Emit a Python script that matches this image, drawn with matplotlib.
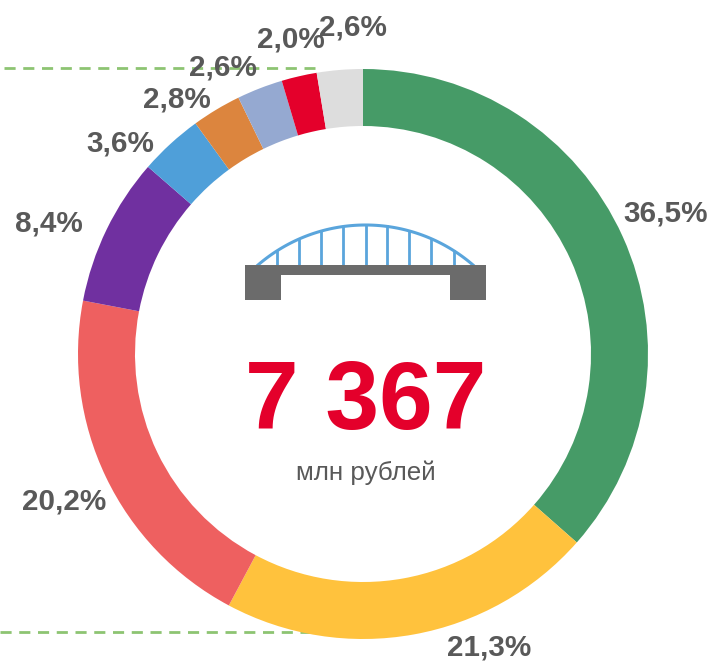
import numpy as np
import matplotlib
matplotlib.use("Agg")
import matplotlib.pyplot as plt
from matplotlib.patches import Rectangle

values = [36.5, 21.3, 20.2, 8.4, 3.6, 2.8, 2.6, 2.0, 2.6]
labels = ["36,5%", "21,3%", "20,2%", "8,4%", "3,6%", "2,8%", "2,6%", "2,0%", "2,6%"]
colors = ["#469B67", "#FFC23D", "#EE6060", "#7030A0", "#4F9FD9",
          "#DC853E", "#95A9D1", "#E4002B", "#DDDDDD"]
label_px = [(666, 213), (489, 647), (64, 501), (49, 224), (120, 144),
            (177, 99), (223, 68), (291, 40), (353, 28)]
total_text = "7 367"
unit_text = "млн рублей"

W, H = 710, 663
plt.rcParams['font.family'] = ['Liberation Sans', 'DejaVu Sans']
fig = plt.figure(figsize=(W / 100, H / 100), dpi=100)
ax = fig.add_axes([0, 0, 1, 1])
Y = lambda py: H - py

GREEN = "#8DC472"
for py, x0, x1 in [(67.5, 4, 315), (632, 0, 330)]:
    ax.plot([x0, x1], [Y(py), Y(py)], color=GREEN, lw=2.0, zorder=1,
            dashes=(4.0, 2.75), dash_capstyle='butt')

ax.pie(values, colors=colors, startangle=90, counterclock=False,
       radius=285, center=(363, Y(354)), frame=True,
       wedgeprops=dict(width=57, linewidth=0, zorder=2))

ax.set_xlim(0, W)
ax.set_ylim(0, H)
ax.set_aspect('equal')
ax.axis('off')

for t, (px, py) in zip(labels, label_px):
    ax.text(px, Y(py), t, ha='center', va='center', fontsize=21.3,
            fontweight='bold', color="#595959", zorder=5)

ax.text(366, Y(404), total_text, ha='center', va='center', fontsize=69.5,
        fontweight='bold', color="#E4002B", zorder=5)
ax.text(366, Y(473), unit_text, ha='center', va='center', fontsize=18.7,
        color="#595959", zorder=5)

# bridge icon
GREY, BLUE = "#6B6B6B", "#5AA5DC"
cx, half, sag = 365.5, 107.5, 40
R = (half ** 2 + sag ** 2) / (2 * sag)
arch = lambda x: np.sqrt(R ** 2 - (x - cx) ** 2) - (R - sag)
xs = np.linspace(cx - half, cx + half, 100)
ax.plot(xs, Y(265) + arch(xs), color=BLUE, lw=2.2, zorder=3)
for hx in [277, 299, 321, 343, 366, 387, 409, 431, 454]:
    ax.plot([hx, hx], [Y(265), Y(265) + arch(hx)], color=BLUE, lw=2.0, zorder=3)
for x, y, w, h in [(245, 265, 241, 10), (245, 265, 36, 35), (450, 265, 36, 35)]:
    ax.add_patch(Rectangle((x, Y(y + h)), w, h, facecolor=GREY, edgecolor='none', zorder=4))

fig.savefig("out.png", dpi=100, facecolor='white')
